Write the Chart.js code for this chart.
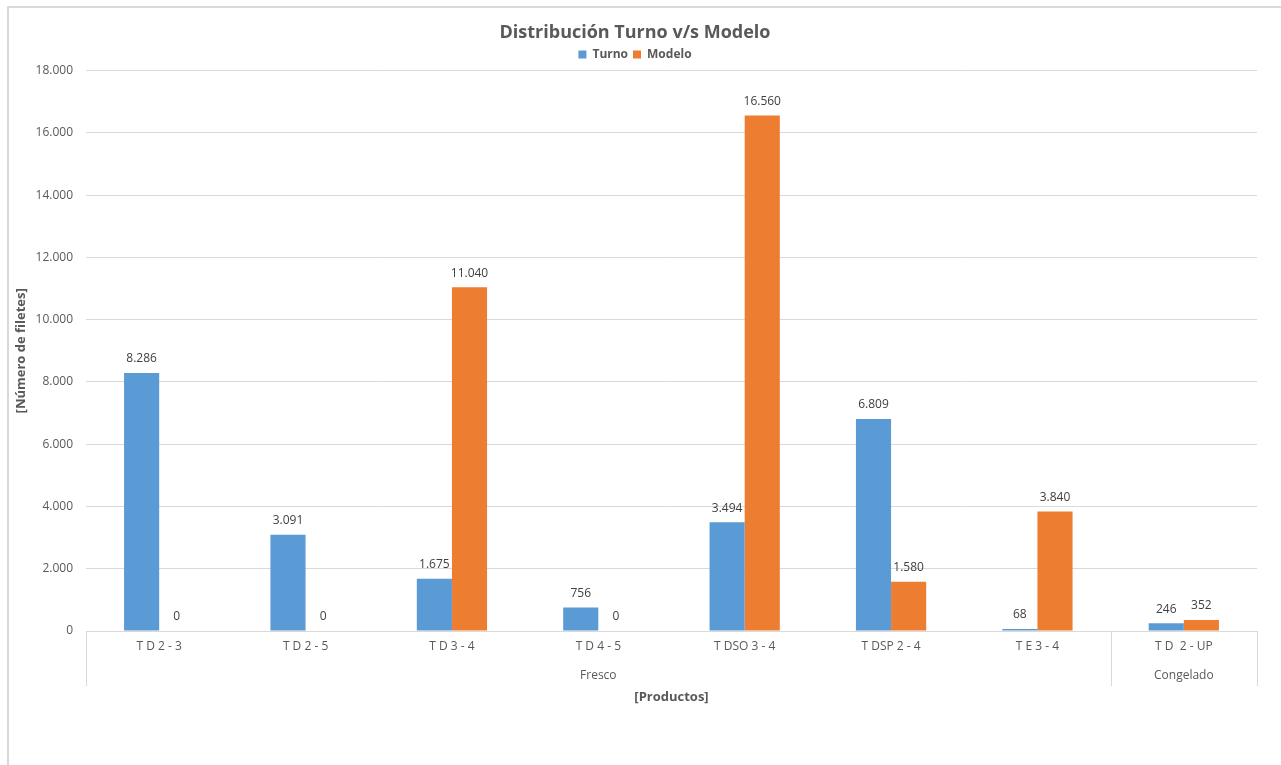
<!DOCTYPE html>
<html>
<head>
<meta charset="utf-8">
<script src="https://cdn.jsdelivr.net/npm/chart.js@4.4.0/dist/chart.umd.min.js"></script>
<style>
  html, body { margin: 0; padding: 0; background: #ffffff; }
  #wrap { position: relative; width: 1281px; height: 765px; overflow: hidden; }
  #frame { position: absolute; left: 7px; top: 6px; width: 1300px; height: 800px; border: 2px solid #d9d9d9; box-sizing: border-box; }
  canvas { position: absolute; left: 0; top: 0; }
</style>
</head>
<body>
<div id="wrap">
  <div id="frame"></div>
  <canvas id="c" width="1281" height="765"></canvas>
</div>
<script>
const categories = ["T D 2 - 3", "T D 2 - 5", "T D 3 - 4", "T D 4 - 5", "T DSO 3 - 4", "T DSP 2 - 4", "T E 3 - 4", "T D  2 - UP"];
const turno = [8286, 3091, 1675, 756, 3494, 6809, 68, 246];
const modelo = [0, 0, 11040, 0, 16560, 1580, 3840, 352];
const groupLabels = ["Fresco", "Congelado"];
const groupStarts = [0, 7];
const groupEnds = [6, 7];
const yTicksMax = 18000;
const yTicksStep = 2000;

const FONT = "'Open Sans', 'DejaVu Sans', sans-serif";
const GREY = "#595959";

function fmt(n) {
  return String(Math.round(n)).replace(/\B(?=(\d{3})+(?!\d))/g, ".");
}

const dataLabels = {
  id: "dataLabels",
  afterDatasetsDraw(chart) {
    const ctx = chart.ctx;
    ctx.save();
    ctx.font = "12px " + FONT;
    ctx.fillStyle = "#404040";
    ctx.textAlign = "center";
    ctx.textBaseline = "bottom";
    chart.data.datasets.forEach((ds, di) => {
      const meta = chart.getDatasetMeta(di);
      meta.data.forEach((bar, i) => {
        ctx.fillText(fmt(ds.data[i]), bar.x, bar.y - 8);
      });
    });
    ctx.restore();
  }
};

const groupAxis = {
  id: "groupAxis",
  afterDraw(chart) {
    const ctx = chart.ctx;
    const xs = chart.scales.x;
    const area = chart.chartArea;
    const half = (xs.getPixelForValue(1) - xs.getPixelForValue(0)) / 2;
    ctx.save();
    ctx.strokeStyle = "#d9d9d9";
    ctx.lineWidth = 1;
    const bounds = [];
    groupStarts.forEach((s, gi) => {
      const x0 = xs.getPixelForValue(s) - half;
      const x1 = xs.getPixelForValue(groupEnds[gi]) + half;
      bounds.push(x0, x1);
      ctx.font = "12px " + FONT;
      ctx.fillStyle = GREY;
      ctx.textAlign = "center";
      ctx.textBaseline = "middle";
      ctx.fillText(groupLabels[gi], (x0 + x1) / 2, 676);
    });
    const uniq = [...new Set(bounds.map(b => Math.round(b)))];
    uniq.forEach(b => {
      ctx.beginPath();
      ctx.moveTo(b + 0.5, area.bottom);
      ctx.lineTo(b + 0.5, 686);
      ctx.stroke();
    });
    ctx.restore();
  }
};

new Chart(document.getElementById("c"), {
  type: "bar",
  data: {
    labels: categories,
    datasets: [
      { label: "Turno", data: turno, backgroundColor: "#5B9BD5", borderWidth: 0 },
      { label: "Modelo", data: modelo, backgroundColor: "#ED7D31", borderWidth: 0 }
    ]
  },
  plugins: [dataLabels, groupAxis],
  options: {
    responsive: false,
    devicePixelRatio: 1,
    animation: false,
    layout: { padding: { left: 13, right: 24, top: 0, bottom: 60 } },
    datasets: { bar: { categoryPercentage: 0.48, barPercentage: 1.0 } },
    plugins: {
      title: {
        display: true,
        text: "Distribución Turno v/s Modelo",
        color: GREY,
        font: { family: FONT, size: 18, weight: "bold" },
        padding: { top: 22, bottom: 0 }
      },
      legend: {
        display: true,
        position: "top",
        labels: {
          color: GREY,
          font: { family: FONT, size: 12, weight: "bold" },
          boxWidth: 8,
          boxHeight: 8,
          padding: 5
        }
      },
      tooltip: { enabled: false }
    },
    scales: {
      x: {
        grid: { display: false, drawTicks: false },
        border: { display: true, color: "#d9d9d9", width: 1 },
        ticks: { color: GREY, font: { family: FONT, size: 12 }, padding: 8, maxRotation: 0, autoSkip: false },
        title: {
          display: true,
          text: "[Productos]",
          color: GREY,
          font: { family: FONT, size: 13, weight: "bold" },
          padding: 0
        },
        afterFit(s) { s.height = 74; }
      },
      y: {
        min: 0,
        max: yTicksMax,
        grid: { color: "#d9d9d9", drawTicks: false },
        border: { display: false },
        ticks: {
          stepSize: yTicksStep,
          color: GREY,
          font: { family: FONT, size: 12 },
          padding: 13,
          callback: v => fmt(v)
        },
        title: {
          display: true,
          text: "[Número de filetes]",
          color: GREY,
          font: { family: FONT, size: 13, weight: "bold" },
          padding: 0
        },
        afterFit(s) { s.width = 73; }
      }
    }
  }
});
</script>
</body>
</html>
